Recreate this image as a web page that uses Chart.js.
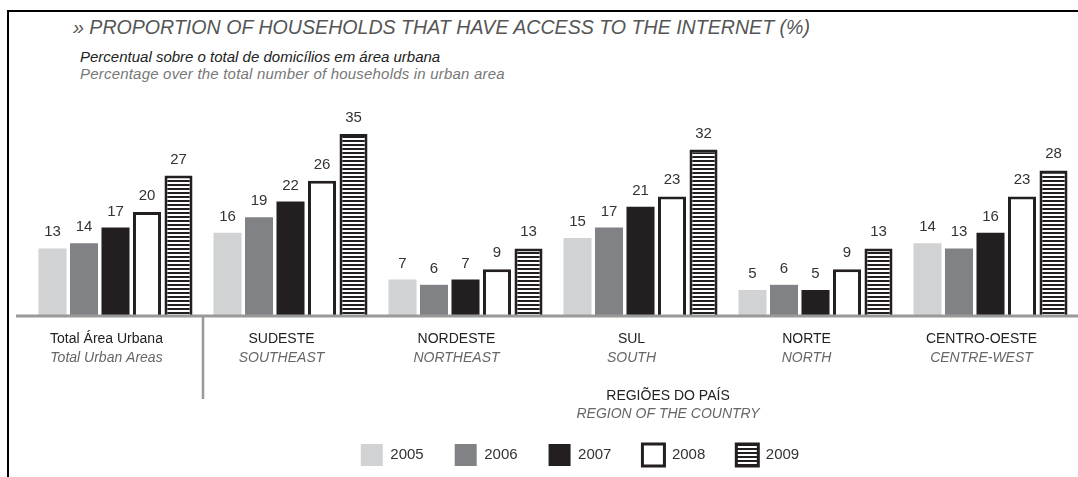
<!DOCTYPE html>
<html>
<head>
<meta charset="utf-8">
<script src="https://cdn.jsdelivr.net/npm/chart.js@4.4.1/dist/chart.umd.min.js"></script>
<style>
  body { margin: 0; width: 1078px; height: 477px; position: relative; overflow: hidden; background: #fff;
         font-family: "Liberation Sans", Arial, sans-serif; }
  .frame { position: absolute; left: 7px; top: 10px; right: 0; bottom: 0;
           border-top: 2px solid #000; border-left: 2px solid #000; }
  .txt { position: absolute; line-height: 1; white-space: nowrap; font-style: italic; }
  #title { left: 73px; top: 18px; font-size: 19.6px; color: #555; }
  #sub1 { left: 80px; top: 49px; font-size: 15px; color: #222; }
  #sub2 { left: 80px; top: 66px; font-size: 15px; color: #777; letter-spacing: 0.2px; }
  #chartBox { position: absolute; left: 0; top: 0; width: 1078px; height: 477px; }
</style>
</head>
<body>
<div class="frame"></div>
<div class="txt" id="title">» PROPORTION OF HOUSEHOLDS THAT HAVE ACCESS TO THE INTERNET (%)</div>
<div class="txt" id="sub1">Percentual sobre o total de domicílios em área urbana</div>
<div class="txt" id="sub2">Percentage over the total number of households in urban area</div>
<div id="chartBox"><canvas id="internetChart"></canvas></div>
<script>
  // categories (pt / en)
  const regionsPt = ["Total Área Urbana", "SUDESTE", "NORDESTE", "SUL", "NORTE", "CENTRO-OESTE"];
  const regionsEn = ["Total Urban Areas", "SOUTHEAST", "NORTHEAST", "SOUTH", "NORTH", "CENTRE-WEST"];

  const years = ["2005", "2006", "2007", "2008", "2009"];

  // series values (%)
  const values2005 = [13, 16, 7, 15, 5, 14];
  const values2006 = [14, 19, 6, 17, 6, 13];
  const values2007 = [17, 22, 7, 21, 5, 16];
  const values2008 = [20, 26, 9, 23, 9, 23];
  const values2009 = [27, 35, 13, 32, 13, 28];

  const axisTitlePt = "REGIÕES DO PAÍS";
  const axisTitleEn = "REGION OF THE COUNTRY";

  const dark = "#231f20";

  // horizontal stripes for 2009
  const stripe = document.createElement("canvas");
  stripe.width = 4;
  stripe.height = 4;
  const sctx = stripe.getContext("2d");
  sctx.fillStyle = "#fff";
  sctx.fillRect(0, 0, 4, 4);
  sctx.fillStyle = dark;
  sctx.fillRect(0, 0, 4, 2);
  const stripePattern = sctx.createPattern(stripe, "repeat");

  const seriesStyle = [
    { data: values2005, bg: "#d1d2d4", border: "#d1d2d4", width: 0 },
    { data: values2006, bg: "#808285", border: "#808285", width: 0 },
    { data: values2007, bg: dark, border: dark, width: 0 },
    { data: values2008, bg: "#fff", border: dark, width: 3 },
    { data: values2009, bg: stripePattern, border: dark, width: 3 },
  ];

  const datasets = seriesStyle.map((s, i) => ({
    label: years[i],
    data: s.data,
    backgroundColor: s.bg,
    borderColor: s.border,
    borderWidth: s.width,
    borderSkipped: "start",
    categoryPercentage: 0.9,
    barPercentage: 0.89,
  }));

  const decorations = {
    id: "decorations",
    afterLayout(chart) {
      // nudge legend to the right like the original
      chart.legend.left += 27;
      chart.legend.right += 27;
    },
    afterDatasetsDraw(chart) {
      const ctx = chart.ctx;
      const x = chart.scales.x;
      const y = chart.scales.y;
      const base = y.getPixelForValue(0);
      ctx.save();

      // value labels
      ctx.font = "15px 'Liberation Sans', Arial, sans-serif";
      ctx.fillStyle = "#333";
      ctx.textAlign = "center";
      ctx.textBaseline = "alphabetic";
      chart.data.datasets.forEach((ds, di) => {
        chart.getDatasetMeta(di).data.forEach((bar, i) => {
          ctx.fillText(ds.data[i], bar.x, bar.y - 12);
        });
      });

      // baseline
      ctx.strokeStyle = "#999";
      ctx.lineWidth = 3;
      ctx.beginPath();
      ctx.moveTo(16, base);
      ctx.lineTo(chart.width, base);
      ctx.stroke();

      // separator between total and regions
      const sepX = (x.getPixelForValue(0) + x.getPixelForValue(1)) / 2;
      ctx.lineWidth = 2.5;
      ctx.beginPath();
      ctx.moveTo(sepX, base);
      ctx.lineTo(sepX, base + 83);
      ctx.stroke();

      // category labels
      regionsPt.forEach((label, i) => {
        const cx = x.getPixelForValue(i) - 9;
        ctx.font = "14px 'Liberation Sans', Arial, sans-serif";
        ctx.fillStyle = "#222";
        ctx.fillText(label, cx, base + 27);
        ctx.font = "italic 14px 'Liberation Sans', Arial, sans-serif";
        ctx.fillStyle = "#666";
        ctx.fillText(regionsEn[i], cx, base + 46);
      });

      // axis title for regions
      const tx = (x.getPixelForValue(3) + x.getPixelForValue(4)) / 2 - 60;
      ctx.font = "14px 'Liberation Sans', Arial, sans-serif";
      ctx.fillStyle = "#222";
      ctx.fillText(axisTitlePt, tx, base + 84);
      ctx.font = "italic 14px 'Liberation Sans', Arial, sans-serif";
      ctx.fillStyle = "#666";
      ctx.fillText(axisTitleEn, tx, base + 102);

      ctx.restore();
    },
  };

  new Chart(document.getElementById("internetChart"), {
    type: "bar",
    data: { labels: regionsPt, datasets: datasets },
    options: {
      responsive: true,
      maintainAspectRatio: false,
      animation: false,
      layout: { padding: { top: 108, left: 28, right: 0, bottom: 1 } },
      plugins: {
        legend: {
          position: "bottom",
          labels: {
            boxWidth: 22,
            boxHeight: 22,
            padding: 31,
            color: "#333",
            font: { size: 15, family: "'Liberation Sans', Arial, sans-serif" },
          },
        },
        tooltip: { enabled: false },
      },
      scales: {
        x: {
          grid: { display: false },
          border: { display: false },
          ticks: { display: false },
          afterFit: (scale) => { scale.height = 97; },
        },
        y: {
          display: false,
          min: 0,
          max: 40,
        },
      },
    },
    plugins: [decorations],
  });
</script>
</body>
</html>
